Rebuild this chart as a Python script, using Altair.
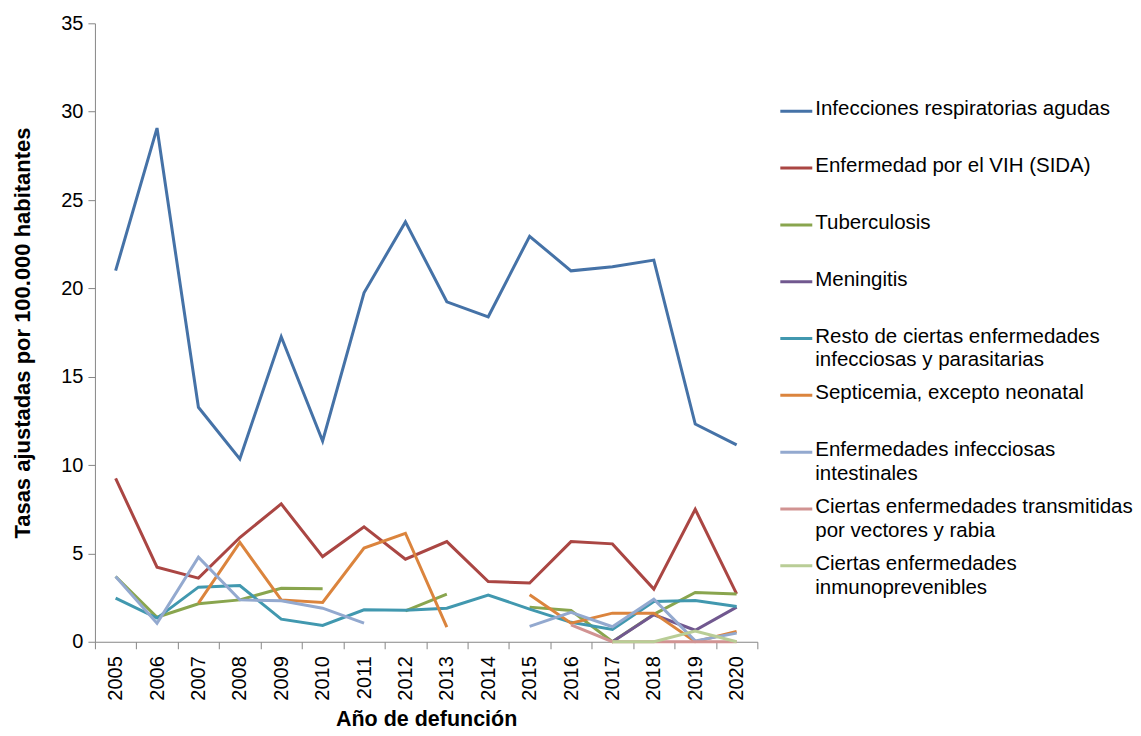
import altair as alt
import pandas as pd

years = [str(y) for y in range(2005, 2021)]

series_names = [
    "Infecciones respiratorias agudas",
    "Enfermedad por el VIH (SIDA)",
    "Tuberculosis",
    "Meningitis",
    "Resto de ciertas enfermedades infecciosas y parasitarias",
    "Septicemia, excepto neonatal",
    "Enfermedades infecciosas intestinales",
    "Ciertas enfermedades transmitidas por vectores y rabia",
    "Ciertas enfermedades inmunoprevenibles",
]
legend_labels = [
    "Infecciones respiratorias agudas",
    "Enfermedad por el VIH (SIDA)",
    "Tuberculosis",
    "Meningitis",
    "Resto de ciertas enfermedades\ninfecciosas y parasitarias",
    "Septicemia, excepto neonatal",
    "Enfermedades infecciosas\nintestinales",
    "Ciertas enfermedades transmitidas\npor vectores y rabia",
    "Ciertas enfermedades\ninmunoprevenibles",
]

infecciones_resp = [21.0, 29.07, 13.27, 10.35, 17.26, 11.36, 19.75, 23.76, 19.24, 18.39, 22.95, 20.99, 21.22, 21.6, 12.32, 11.14]
vih = [9.25, 4.22, 3.6, 5.9, 7.8, 4.82, 6.5, 4.67, 5.67, 3.41, 3.32, 5.67, 5.54, 2.98, 7.5, 2.71]
tuberculosis = [3.69, 1.39, 2.15, 2.37, 3.03, 3.0, None, 1.75, 2.7, None, 1.96, 1.77, 0.0, 1.55, 2.79, 2.7]
meningitis = [None, None, None, None, None, None, None, None, None, None, None, None, 0.0, 1.53, 0.65, 1.96]
resto = [2.47, 1.34, 3.09, 3.18, 1.28, 0.92, 1.81, 1.78, 1.9, 2.64, 1.85, 1.1, 0.7, 2.28, 2.34, 2.0]
septicemia = [None, None, 2.19, 5.62, 2.37, 2.22, 5.3, 6.14, 0.83, None, 2.66, 1.05, 1.62, 1.62, 0.0, 0.58]
intestinales = [3.69, 1.05, 4.79, 2.37, 2.32, 1.9, 1.05, None, None, None, 0.87, 1.66, 0.85, 2.41, 0.05, 0.49]
vectores = [None, None, None, None, None, None, None, None, None, None, None, 0.96, 0.0, 0.0, 0.0, 0.0]
inmunoprev = [None, None, None, None, None, None, None, None, None, None, None, None, 0.0, 0.0, 0.6, 0.0]

all_values = [infecciones_resp, vih, tuberculosis, meningitis, resto, septicemia,
              intestinales, vectores, inmunoprev]

colors = ["#4572A7", "#AA4643", "#89A54E", "#71588F", "#4198AF",
          "#DB843D", "#93A9CF", "#D19392", "#B9CD96"]

rows = []
for name, vals in zip(series_names, all_values):
    for yr, v in zip(years, vals):
        rows.append({"Año": yr, "Serie": name, "Tasa": v})
df = pd.DataFrame(rows)

leg_df = pd.DataFrame({"Serie": series_names, "Etiqueta": legend_labels})

color_scale = alt.Scale(domain=series_names, range=colors)

lines = alt.Chart(df).mark_line(
    strokeWidth=3, invalid="break-paths-filter-domains"
).encode(
    x=alt.X("Año:O",
            scale=alt.Scale(type="band", paddingInner=0, paddingOuter=0),
            axis=alt.Axis(title="Año de defunción", labelAngle=-90,
                          tickBand="extent", labelPadding=7, titlePadding=8,
                          titleFontSize=21.5)),
    y=alt.Y("Tasa:Q",
            scale=alt.Scale(domain=[0, 35], nice=False),
            axis=alt.Axis(values=[0, 5, 10, 15, 20, 25, 30, 35],
                          title="Tasas ajustadas por 100.000 habitantes",
                          labelPadding=5, titlePadding=26, titleFontSize=22)),
    color=alt.Color("Serie:N", scale=color_scale, legend=None),
    detail="Serie:N",
).properties(width=663, height=619)

ypos = alt.Y("Serie:N", sort=series_names,
             scale=alt.Scale(type="point", padding=0, range=[88, 543]),
             axis=None)

leg_rules = alt.Chart(leg_df).mark_rule(strokeWidth=3).encode(
    x=alt.value(22), x2=alt.value(54), y=ypos,
    color=alt.Color("Serie:N", scale=color_scale, legend=None),
)
leg_text = alt.Chart(leg_df).mark_text(
    align="left", baseline="top", dy=-12, fontSize=20.5, lineHeight=24,
    lineBreak="\n", color="#000000"
).encode(
    x=alt.value(57), y=ypos, text="Etiqueta:N",
)
legend = alt.layer(leg_rules, leg_text).properties(width=360, height=619)

chart = alt.hconcat(lines, legend, spacing=0).properties(
    padding={"left": 3, "top": 5, "right": 0, "bottom": 0}
).configure(
    font="Liberation Sans"
).configure_view(
    stroke=None
).configure_axis(
    grid=False,
    domainColor="#868686",
    tickColor="#868686",
    tickSize=7,
    labelFontSize=20,
    labelColor="#000000",
    titleColor="#000000",
    titleFontWeight="bold",
    labelFont="Liberation Sans",
    titleFont="Liberation Sans",
)

chart.save("out.html", embed_options={"renderer": "svg", "actions": False})
